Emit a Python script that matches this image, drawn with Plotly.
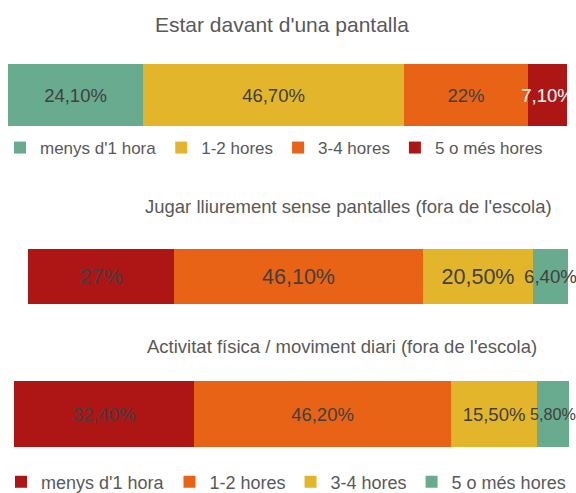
import plotly.graph_objects as go

categories = ["menys d'1 hora", "1-2 hores", "3-4 hores", "5 o més hores"]
titles = [
    "Estar davant d'una pantalla",
    "Jugar lliurement sense pantalles (fora de l'escola)",
    "Activitat física / moviment diari (fora de l'escola)",
]
pantalla = [24.1, 46.7, 22.0, 7.1]
jugar = [27.0, 46.1, 20.5, 6.4]
activitat = [32.4, 46.2, 15.5, 5.8]

TEAL, YELLOW, ORANGE, RED = "#69ab8e", "#e3b52a", "#e86316", "#ae1616"
colors_1 = [TEAL, YELLOW, ORANGE, RED]
colors_23 = [RED, ORANGE, YELLOW, TEAL]
label_colors_1 = ["#404040", "#404040", "#404040", "#ffffff"]
label_colors_23 = ["#404040", "#404040", "#404040", "#404040"]
label_sizes_1 = [18.5, 18.5, 18.5, 18.5]
label_sizes_2 = [21.5, 21.5, 21.5, 18.7]
label_sizes_3 = [18.5, 18.5, 18.5, 16.2]

FONT = "Arial, Liberation Sans, sans-serif"
W, H = 576, 493


def fmt(v):
    if float(v).is_integer():
        return f"{int(v)}%"
    return f"{v:.2f}".replace(".", ",") + "%"


panels = [
    (pantalla, colors_1, label_colors_1, label_sizes_1, "x", "y", "legend", True),
    (jugar, colors_23, label_colors_23, label_sizes_2, "x2", "y2", "legend2", False),
    (activitat, colors_23, label_colors_23, label_sizes_3, "x3", "y3", "legend2", True),
]

fig = go.Figure()
for vals, cols, lcols, lsizes, xa, ya, leg, show in panels:
    for cat, v, c, lc, fs in zip(categories, vals, cols, lcols, lsizes):
        fig.add_trace(go.Bar(
            x=[v], y=[""], orientation="h", name=cat,
            xaxis=xa, yaxis=ya, marker=dict(color=c, line=dict(width=0)),
            text=[fmt(v)], textposition="inside", insidetextanchor="middle",
            constraintext="none", cliponaxis=False,
            textangle=0, textfont=dict(color=lc, size=fs, family=FONT),
            showlegend=show, legend=leg, hoverinfo="skip",
        ))


def px_x(a, b):
    return [a / W, b / W]


def px_y(top, bottom):
    return [1 - bottom / H, 1 - top / H]


axis_common = dict(range=[0, 100], visible=False, fixedrange=True)
ycommon = dict(visible=False, range=[-0.5, 0.5], fixedrange=True)

fig.update_layout(
    width=W, height=H,
    margin=dict(l=0, r=0, t=0, b=0, autoexpand=False),
    paper_bgcolor="white", plot_bgcolor="white",
    barmode="stack", bargap=0,
    font=dict(family=FONT, color="#595959"),
    xaxis=dict(domain=px_x(8, 568), anchor="y", **axis_common),
    yaxis=dict(domain=px_y(64, 126), anchor="x", **ycommon),
    xaxis2=dict(domain=px_x(28, 568), anchor="y2", **axis_common),
    yaxis2=dict(domain=px_y(249, 304), anchor="x2", **ycommon),
    xaxis3=dict(domain=px_x(14, 570), anchor="y3", **axis_common),
    yaxis3=dict(domain=px_y(381, 447), anchor="x3", **ycommon),
    legend=dict(orientation="h", x=0, xanchor="left", y=1 - 148 / H, yanchor="middle",
                font=dict(size=17, color="#595959", family=FONT),
                traceorder="normal", bgcolor="rgba(0,0,0,0)"),
    legend2=dict(orientation="h", x=1 / W, xanchor="left", y=1 - 482 / H, yanchor="middle",
                 font=dict(size=18, color="#595959", family=FONT),
                 traceorder="normal", bgcolor="rgba(0,0,0,0)"),
    annotations=[
        dict(text=titles[0], x=281.5 / W, y=1 - 25 / H, xref="paper", yref="paper",
             xanchor="center", yanchor="middle",
             showarrow=False, font=dict(size=21, color="#595959", family=FONT)),
        dict(text=titles[1], x=348 / W, y=1 - 207 / H, xref="paper", yref="paper",
             xanchor="center", yanchor="middle",
             showarrow=False, font=dict(size=18.5, color="#595959", family=FONT)),
        dict(text=titles[2], x=342 / W, y=1 - 346 / H, xref="paper", yref="paper",
             xanchor="center", yanchor="middle",
             showarrow=False, font=dict(size=18.5, color="#595959", family=FONT)),
    ],
)

fig.write_html("out.html", config={"displayModeBar": False},
               post_script="document.body.style.margin='0';")
